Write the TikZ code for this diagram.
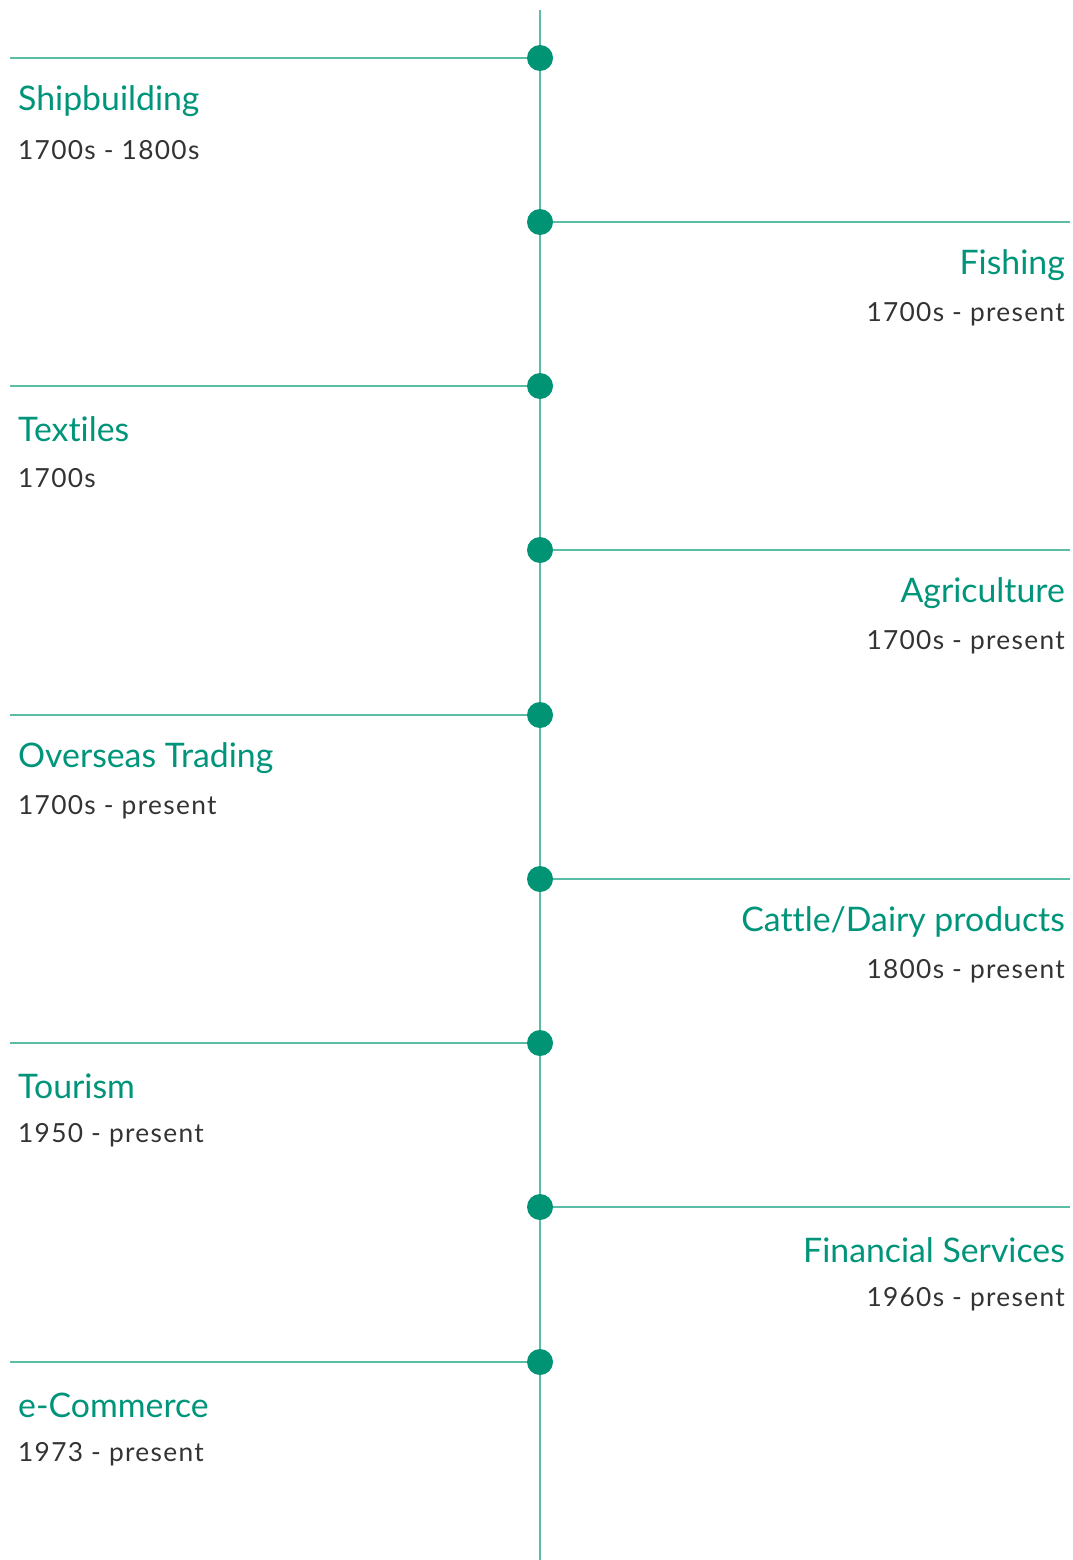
\documentclass[tikz,border=0pt]{standalone}
\usepackage{fontspec}
\setmainfont{Lato}[Ligatures=NoCommon]
\newfontfamily\yearfont{Lato}[LetterSpace=5]
\usetikzlibrary{positioning}
\definecolor{dotgreen}{HTML}{009474}
\definecolor{rulegreen}{HTML}{5CBDA6}
\definecolor{labelgreen}{HTML}{00957A}
\definecolor{yeargray}{HTML}{333333}
\tikzset{%
  dot/.style      = {circle, fill=dotgreen, inner sep=0pt, minimum size=26pt},%
  rule/.style     = {draw=rulegreen, line width=1.4pt},%
  industry/.style = {text=labelgreen, inner sep=0pt,%
                     font=\fontsize{33.8}{40}\selectfont},%
  years/.style    = {text=yeargray, inner sep=0pt,%
                     font=\yearfont\fontsize{26.3}{32}\selectfont}%
}

\begin{document}
\begin{tikzpicture}[x=1pt, y=-1pt]
	\useasboundingbox (0,0) rectangle (1073,1560);
	\coordinate (top) at (540,10);
	\coordinate (bottom) at (540,1560);
	% left side
	\foreach \i/\y/\name/\span in {1/58/Shipbuilding/1700s - 1800s,
		3/386/Textiles/1700s, 5/715/Overseas Trading/1700s - present,
		7/1043/Tourism/1950 - present, 9/1362/e-Commerce/1973 - present}{
		\node [dot] (d\i) at (540,\y) {};
		\coordinate (e\i) at (10,\y);
		\draw [rule] (e\i) -- (d\i);
		\node [industry, anchor=west] (t\i) at (18,\y+43) {\name};
		\node [years, anchor=west] (y\i) at (18,\y+92) {\span};
	}
	% right side
	\foreach \i/\y/\name/\span in {2/222/Fishing/1700s - present,
		4/550/Agriculture/1700s - present,
		6/879/{Cattle/Dairy products}/1800s - present,
		8/1207/Financial Services/1960s - present}{
		\node [dot] (d\i) at (540,\y) {};
		\coordinate (e\i) at (1070,\y);
		\draw [rule] (d\i) -- (e\i);
		\node [industry, anchor=east] (t\i) at (1065,\y+43) {\name};
		\node [years, anchor=east] (y\i) at (1065,\y+92) {\span};
	}
	% spine
	\draw [rule] (top) -- (d1) (d1) -- (d2) (d2) -- (d3) (d3) -- (d4)
		(d4) -- (d5) (d5) -- (d6) (d6) -- (d7) (d7) -- (d8) (d8) -- (d9)
		(d9) -- (bottom);
\end{tikzpicture}
\end{document}
